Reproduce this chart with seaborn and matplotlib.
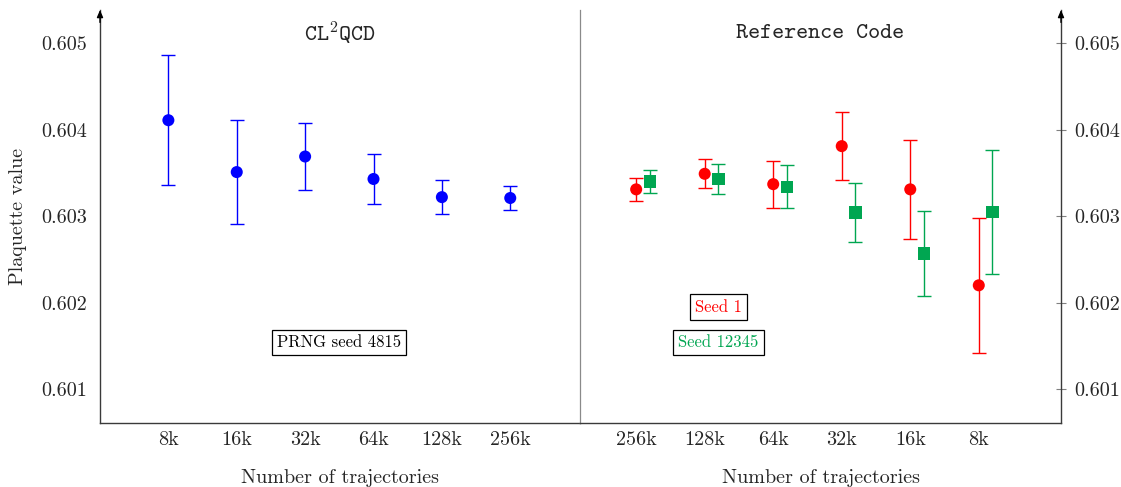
import matplotlib
matplotlib.use("Agg")
import matplotlib.pyplot as plt
import seaborn as sns
import pandas as pd

# Number of trajectories (tick labels) for each panel
left_labels = ["8k", "16k", "32k", "64k", "128k", "256k"]
right_labels = ["256k", "128k", "64k", "32k", "16k", "8k"]

# CL2QCD results (PRNG seed 4815)
cl2qcd_mean = [0.60411, 0.60351, 0.60369, 0.60343, 0.60322, 0.60321]
cl2qcd_err = [0.00075, 0.00060, 0.00039, 0.00029, 0.00020, 0.00014]

# Reference code, seed 1
seed1_mean = [0.60331, 0.60349, 0.60337, 0.60381, 0.60331, 0.60220]
seed1_err = [0.00013, 0.00017, 0.00027, 0.00039, 0.00057, 0.00078]

# Reference code, seed 12345
seed2_mean = [0.60340, 0.60343, 0.60334, 0.60304, 0.60257, 0.60305]
seed2_err = [0.00013, 0.00017, 0.00025, 0.00034, 0.00049, 0.00072]

yticks = [0.601, 0.602, 0.603, 0.604, 0.605]
ytick_labels = ["0.601", "0.602", "0.603", "0.604", "0.605"]

BLUE = "#0000ff"
RED = "#ff0000"
GREEN = "#00a651"
SPINE = "#3a3a3a"

sns.set_theme(style="white")
plt.rcParams["font.family"] = ["cmr10", "DejaVu Serif"]
plt.rcParams["mathtext.fontset"] = "cm"
plt.rcParams["axes.formatter.use_mathtext"] = True

TICK_FS = 14.5
LABEL_FS = 14.5
TITLE_FS = 16.5
BOX_FS = 12

fig = plt.figure(figsize=(11.21, 4.87), dpi=100)
ax_l = fig.add_axes([100 / 1121, 64 / 487, 480 / 1121, 413 / 487])
ax_r = fig.add_axes([580 / 1121, 64 / 487, 481 / 1121, 413 / 487])

ylim = (0.600607, 0.605385)

pos = list(range(1, 7))
df_l = pd.DataFrame({"x": pos, "y": cl2qcd_mean, "err": cl2qcd_err})
df_s1 = pd.DataFrame({"x": pos, "y": seed1_mean, "err": seed1_err})
df_s2 = pd.DataFrame({"x": [p + 0.2 for p in pos], "y": seed2_mean, "err": seed2_err})

# Left panel: CL2QCD
ax_l.errorbar(df_l["x"], df_l["y"], yerr=df_l["err"], fmt="none", ecolor=BLUE,
              elinewidth=1.0, capsize=5, capthick=1.0, zorder=2)
sns.scatterplot(data=df_l, x="x", y="y", ax=ax_l, color=BLUE, marker="o",
                s=75, edgecolor="none", zorder=3, legend=False)

# Right panel: reference code, two seeds
ax_r.errorbar(df_s1["x"], df_s1["y"], yerr=df_s1["err"], fmt="none", ecolor=RED,
              elinewidth=1.0, capsize=5, capthick=1.0, zorder=2)
ax_r.errorbar(df_s2["x"], df_s2["y"], yerr=df_s2["err"], fmt="none", ecolor=GREEN,
              elinewidth=1.0, capsize=5, capthick=1.0, zorder=2)
sns.scatterplot(data=df_s1, x="x", y="y", ax=ax_r, color=RED, marker="o",
                s=75, edgecolor="none", zorder=3, legend=False)
sns.scatterplot(data=df_s2, x="x", y="y", ax=ax_r, color=GREEN, marker="s",
                s=80, edgecolor="none", zorder=3, legend=False)

ax_l.set_xlim(0.0, 7.02)
ax_r.set_xlim(0.18, 7.2)

for ax, labels in ((ax_l, left_labels), (ax_r, right_labels)):
    ax.set_ylim(*ylim)
    ax.set_xticks(pos)
    ax.set_xticklabels(labels, fontsize=TICK_FS)
    ax.set_xlabel("Number of trajectories", fontsize=LABEL_FS, labelpad=14)
    ax.set_yticks(yticks)
    ax.set_yticklabels(ytick_labels, fontsize=TICK_FS)
    ax.tick_params(axis="x", direction="in", length=6, width=0.8, color="#808080", pad=6)
    ax.tick_params(axis="y", direction="inout", length=7, width=0.8, color="#808080", pad=6)
    ax.spines["top"].set_visible(False)
    ax.set_facecolor("white")

ax_l.set_ylabel("Plaquette value", fontsize=LABEL_FS, labelpad=10)
ax_l.spines["right"].set_visible(False)
for s in ("left", "bottom"):
    ax_l.spines[s].set_color(SPINE)
    ax_l.spines[s].set_linewidth(1.0)

ax_r.set_ylabel("")
ax_r.yaxis.tick_right()
ax_r.spines["left"].set_color("#8a8a8a")
ax_r.spines["left"].set_linewidth(0.9)
for s in ("right", "bottom"):
    ax_r.spines[s].set_color(SPINE)
    ax_r.spines[s].set_linewidth(1.0)

# Arrow heads on the vertical axes
ax_l.annotate("", xy=(0, 1.0), xytext=(0, 0.97), xycoords="axes fraction",
              arrowprops=dict(arrowstyle="-|>,head_length=0.35,head_width=0.15",
                              color="black", lw=1.0, shrinkA=0, shrinkB=0))
ax_r.annotate("", xy=(1, 1.0), xytext=(1, 0.97), xycoords="axes fraction",
              arrowprops=dict(arrowstyle="-|>,head_length=0.35,head_width=0.15",
                              color="black", lw=1.0, shrinkA=0, shrinkB=0))

# Panel titles
ax_l.text(0.5, 0.944, r"CL$^{\mathtt{2}}$QCD", transform=ax_l.transAxes,
          ha="center", va="center", fontsize=TITLE_FS, family="cmtt10")
ax_r.text(0.5, 0.944, "Reference Code", transform=ax_r.transAxes,
          ha="center", va="center", fontsize=TITLE_FS, family="cmtt10")

# Seed annotations
box = dict(boxstyle="square,pad=0.3", facecolor="white", edgecolor="black", linewidth=0.9)
ax_l.text(3.5, 0.60154, "PRNG seed 4815", ha="center", va="center",
          fontsize=BOX_FS, color="black", bbox=box)
ax_r.text(2.2, 0.60195, "Seed 1", ha="center", va="center",
          fontsize=BOX_FS, color=RED, bbox=box)
ax_r.text(2.2, 0.60154, "Seed 12345", ha="center", va="center",
          fontsize=BOX_FS, color=GREEN, bbox=box)

fig.savefig("out.png", dpi=100, facecolor="white")
